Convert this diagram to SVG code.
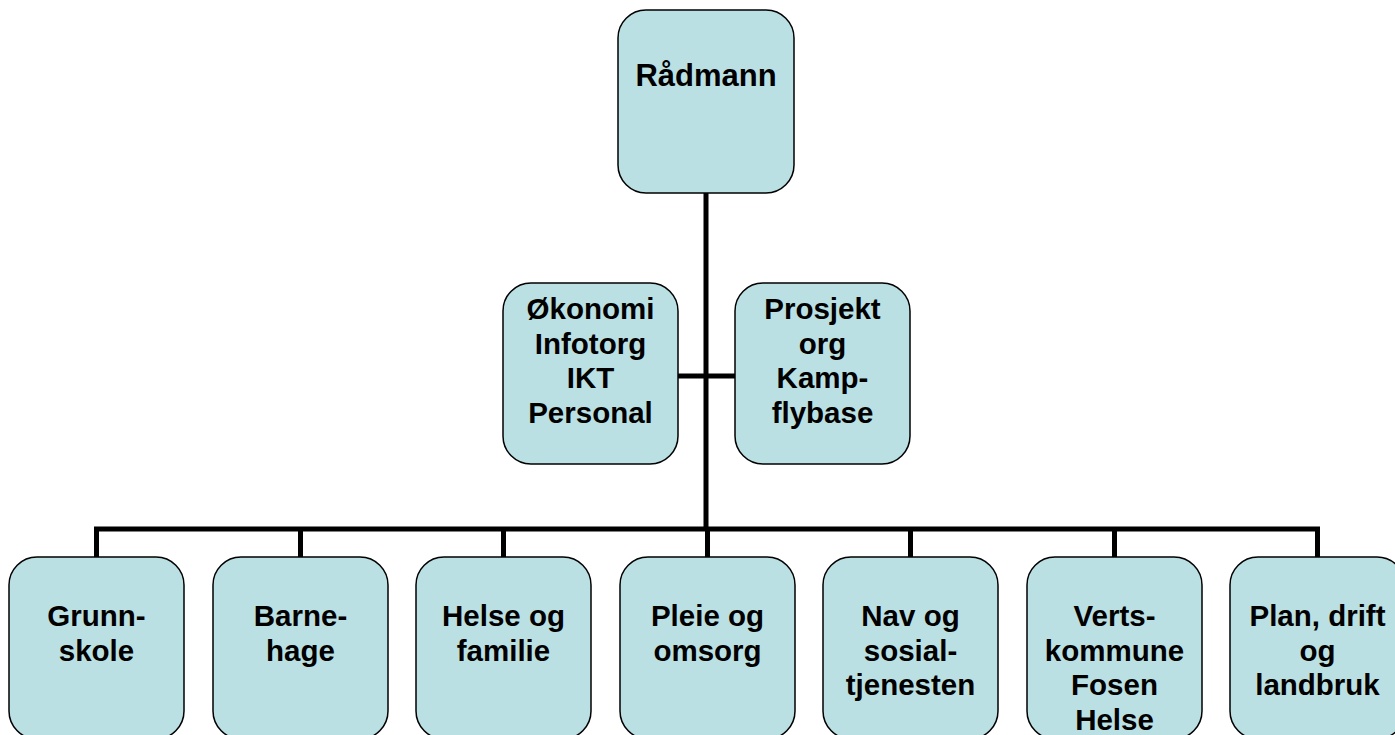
<svg xmlns="http://www.w3.org/2000/svg" width="1395" height="735" viewBox="0 0 1395 735">
<style>
.box{fill:#BBE0E3;stroke:#000;stroke-width:1.5}
.t{font-family:"Liberation Sans",Arial,sans-serif;font-weight:bold;font-size:29.5px;fill:#000;text-anchor:middle}
.c{stroke:#000;stroke-width:5;fill:none}
</style>
<rect width="1395" height="735" fill="#fff"/>
<g id="connectors">
<line class="c" x1="706" y1="193" x2="706" y2="529"/>
<line class="c" x1="678" y1="376" x2="735" y2="376"/>
<polyline class="c" points="96.5,557 96.5,529 1317.5,529 1317.5,557" stroke-linejoin="miter"/>
<line class="c" x1="300.5" y1="529" x2="300.5" y2="557"/>
<line class="c" x1="503.5" y1="529" x2="503.5" y2="557"/>
<line class="c" x1="707.5" y1="529" x2="707.5" y2="557"/>
<line class="c" x1="910.5" y1="529" x2="910.5" y2="557"/>
<line class="c" x1="1114.5" y1="529" x2="1114.5" y2="557"/>
</g>
<g id="radmann"><rect class="box" x="618" y="10" width="176" height="183" rx="28"/><text class="t" x="706" y="86" style="font-size:31px">Rådmann</text></g>
<g id="okonomi"><rect class="box" x="503" y="283" width="175" height="181" rx="28"/>
<text class="t" x="590.5" y="319">Økonomi</text><text class="t" x="590.5" y="353.5">Infotorg</text><text class="t" x="590.5" y="388">IKT</text><text class="t" x="590.5" y="422.5">Personal</text></g>
<g id="prosjekt"><rect class="box" x="735" y="283" width="175" height="181" rx="28"/>
<text class="t" x="822.5" y="319">Prosjekt</text><text class="t" x="822.5" y="353.5">org</text><text class="t" x="822.5" y="388">Kamp-</text><text class="t" x="822.5" y="422.5">flybase</text></g>
<g id="grunnskole"><rect class="box" x="9" y="557" width="175" height="182" rx="28"/>
<text class="t" x="96.5" y="626">Grunn-</text><text class="t" x="96.5" y="661">skole</text></g>
<g id="barnehage"><rect class="box" x="213" y="557" width="175" height="182" rx="28"/>
<text class="t" x="300.5" y="626">Barne-</text><text class="t" x="300.5" y="661">hage</text></g>
<g id="helse"><rect class="box" x="416" y="557" width="175" height="182" rx="28"/>
<text class="t" x="503.5" y="626">Helse og</text><text class="t" x="503.5" y="661">familie</text></g>
<g id="pleie"><rect class="box" x="620" y="557" width="175" height="182" rx="28"/>
<text class="t" x="707.5" y="626">Pleie og</text><text class="t" x="707.5" y="661">omsorg</text></g>
<g id="nav"><rect class="box" x="823" y="557" width="175" height="182" rx="28"/>
<text class="t" x="910.5" y="626">Nav og</text><text class="t" x="910.5" y="661">sosial-</text><text class="t" x="910.5" y="695">tjenesten</text></g>
<g id="verts"><rect class="box" x="1027" y="557" width="175" height="182" rx="28"/>
<text class="t" x="1114.5" y="626">Verts-</text><text class="t" x="1114.5" y="661">kommune</text><text class="t" x="1114.5" y="695">Fosen</text><text class="t" x="1114.5" y="730">Helse</text></g>
<g id="plan"><rect class="box" x="1230" y="557" width="175" height="182" rx="28"/>
<text class="t" x="1317.5" y="626">Plan, drift</text><text class="t" x="1317.5" y="661">og</text><text class="t" x="1317.5" y="695">landbruk</text></g>
</svg>
